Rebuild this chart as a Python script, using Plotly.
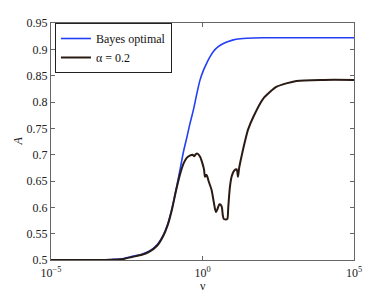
import numpy as np
import plotly.graph_objects as go

# log10(nu) sample positions and A values
bayes_log_nu = [-5, -3.5, -3.0, -2.6, -2.3, -2.0, -1.75, -1.5, -1.3, -1.18, -1.05, -0.96, -0.85,
                -0.73, -0.63, -0.52, -0.41, -0.30, -0.19, -0.08, 0.03, 0.14, 0.25, 0.36, 0.5,
                0.69, 0.85, 1.02, 1.25, 1.46, 2.0, 3.0, 5.0]
bayes_A = [0.5, 0.5, 0.501, 0.503, 0.507, 0.511, 0.517, 0.529, 0.547, 0.563, 0.588, 0.610, 0.640,
           0.675, 0.705, 0.732, 0.760, 0.785, 0.815, 0.842, 0.860, 0.874, 0.886, 0.896, 0.904,
           0.911, 0.915, 0.918, 0.920, 0.921, 0.922, 0.922, 0.922]

alpha_log_nu = [-5, -3.5, -3.0, -2.6, -2.3, -2.0, -1.75, -1.5, -1.3, -1.15, -1.0, -0.88, -0.74,
                -0.62, -0.52, -0.42, -0.33, -0.27, -0.22, -0.17, -0.08, 0.0, 0.05, 0.08, 0.12,
                0.15, 0.2, 0.3, 0.36, 0.41, 0.45, 0.49, 0.52, 0.56, 0.6, 0.64, 0.67, 0.7, 0.76,
                0.82, 0.85, 0.9, 0.96, 1.05, 1.13, 1.17, 1.21, 1.3, 1.4, 1.5, 1.68, 2.0, 2.45,
                3.1, 4.0, 5.0]
alpha_A = [0.5, 0.5, 0.5005, 0.502, 0.506, 0.510, 0.516, 0.527, 0.545, 0.566, 0.598, 0.630, 0.663,
           0.684, 0.694, 0.698, 0.700, 0.697, 0.701, 0.702, 0.696, 0.683, 0.672, 0.658, 0.662,
           0.660, 0.650, 0.633, 0.614, 0.598, 0.591, 0.596, 0.601, 0.606, 0.605, 0.600, 0.585,
           0.578, 0.577, 0.578, 0.600, 0.636, 0.658, 0.670, 0.672, 0.658, 0.675, 0.700, 0.725,
           0.747, 0.772, 0.806, 0.829, 0.840, 0.842, 0.842]

x_tick_vals = [1e-5, 1e0, 1e5]
x_tick_text = ["10<sup>−5</sup>", "10<sup>0</sup>", "10<sup>5</sup>"]
y_tick_vals = [0.5, 0.55, 0.6, 0.65, 0.7, 0.75, 0.8, 0.85, 0.9, 0.95]
y_tick_text = ["0.5", "0.55", "0.6", "0.65", "0.7", "0.75", "0.8", "0.85", "0.9", "0.95"]
x_title = "ν"
y_title = "<i>A</i>"

FAMILY = "Times New Roman, Liberation Serif, serif"
font = dict(family=FAMILY, size=12, color="#222")

fig = go.Figure()
fig.add_trace(go.Scatter(x=np.power(10.0, bayes_log_nu), y=bayes_A, mode="lines",
                         name="Bayes optimal", line=dict(color="#2340f5", width=1.6, shape="spline")))
fig.add_trace(go.Scatter(x=np.power(10.0, alpha_log_nu), y=alpha_A, mode="lines",
                         name="α = 0.2", line=dict(color="#2a1a14", width=2, shape="spline", smoothing=0.6)))

axis_common = dict(showline=True, linecolor="#666", linewidth=1, mirror="ticks", ticks="inside",
                   ticklen=4, tickcolor="#666", showgrid=False, zeroline=False, tickfont=font,
                   automargin=False)
fig.update_xaxes(type="log", range=[-5, 5], tickvals=x_tick_vals, ticktext=x_tick_text,
                 ticklabelstandoff=2, **axis_common)
fig.update_yaxes(range=[0.5, 0.95], tickvals=y_tick_vals, ticktext=y_tick_text, **axis_common)

fig.add_annotation(text=x_title, xref="paper", yref="paper", x=0.5, y=0, xanchor="center",
                   yanchor="middle", yshift=-26, showarrow=False, font=font)
fig.add_annotation(text=y_title, xref="paper", yref="paper", x=0, y=0.5, xanchor="center",
                   yanchor="middle", xshift=-34, textangle=-90, showarrow=False, font=font)

# the page shows the figure offset by the default 8px body margin; margins compensate for it
fig.update_layout(
    width=390, height=294,
    margin=dict(l=43, r=44, t=15, b=42),
    paper_bgcolor="white", plot_bgcolor="white",
    font=font,
    showlegend=True,
    legend=dict(x=0.013, y=1.0, xanchor="left", yanchor="top", bgcolor="white",
                bordercolor="#222", borderwidth=1, font=dict(family=FAMILY, size=12, color="#111"),
                tracegroupgap=0, itemwidth=30),
)

fig.write_html("out.html")
